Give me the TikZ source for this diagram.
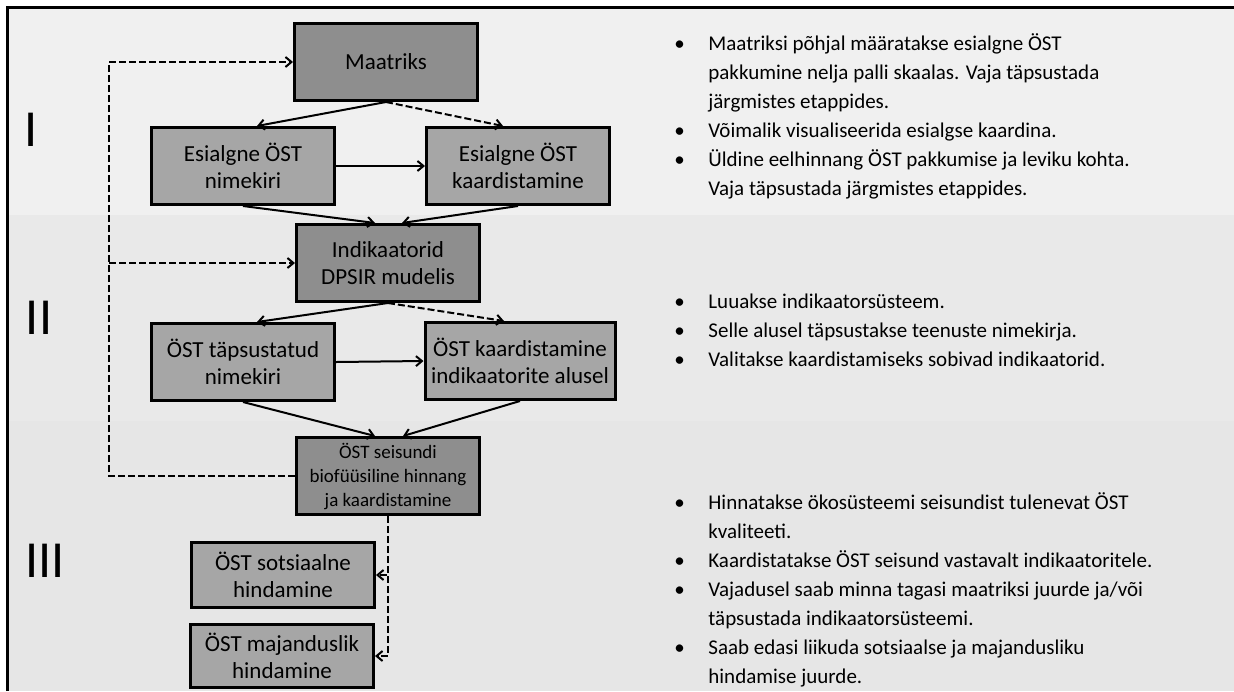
\documentclass[tikz,border=0pt]{standalone}
\usepackage{fontspec}
\setmainfont{Carlito}
\usetikzlibrary{calc,arrows.meta}
\definecolor{bandA}{HTML}{F0F0F0}
\definecolor{bandB}{HTML}{E9E9E9}
\definecolor{bandC}{HTML}{E6E6E6}
\definecolor{boxdark}{HTML}{8E8E8E}
\definecolor{boxlight}{HTML}{A6A6A6}
\newcommand{\bul}{\strut\makebox[17pt][l]{•}}
\newcommand{\cont}{\strut\hspace*{17pt}}
\tikzset{
  stage/.style={draw,line width=1.5pt,minimum width=91.5pt,minimum height=38.5pt,
    inner sep=1pt,align=center,font=\fontsize{11.5}{13.5}\selectfont},
  dark/.style={stage,fill=boxdark},
  light/.style={stage,fill=boxlight},
  link/.style={line width=1pt,-{Straight Barb[length=3pt,width=5pt]}},
  dlink/.style={link,dash pattern=on 3.5pt off 1.5pt},
  notes/.style={anchor=north west,inner sep=0pt,align=left,font=\fontsize{10.5}{14.5}\selectfont},
  roman/.style={inner sep=0pt,font=\fontsize{26}{30}\selectfont}
}
\begin{document}
\begin{tikzpicture}[x=0.5pt,y=-0.5pt]
	\useasboundingbox (0,0) rectangle (1234,691);
	\fill[bandA] (7,7) rectangle (1234,215);
	\fill[bandB] (7,215) rectangle (1234,421);
	\fill[bandC] (7,421) rectangle (1234,691);
	\draw[line width=1.5pt] (7,691) -- (7,7) -- (1234,7);
	
	\node[roman] (rI) at (31,130) {I};
	\node[roman] (rII) at (39,318) {II};
	\node[roman] (rIII) at (45,561) {III};
	
	\node[dark] (maatriks) at (386,62) {Maatriks};
	\node[light] (nim1) at (243,166) {Esialgne ÖST\\nimekiri};
	\node[light] (kaart1) at (518,166) {Esialgne ÖST\\kaardistamine};
	\node[dark] (indik) at (388,263) {Indikaatorid\\DPSIR mudelis};
	\node[light] (nim2) at (243,362) {ÖST täpsustatud\\nimekiri};
	\node[light,minimum width=95pt] (kaart2) at (520,361) {ÖST kaardistamine\\indikaatorite alusel};
	\node[dark,font=\fontsize{9.5}{12}\selectfont] (seisund) at (388,476) {ÖST seisundi\\biofüüsiline hinnang\\ja kaardistamine};
	\node[light,minimum height=32.5pt] (sots) at (283,575) {ÖST sotsiaalne\\hindamine};
	\node[light,minimum height=31.5pt] (majand) at (282,656) {ÖST majanduslik\\hindamine};
	
	\coordinate (looptop) at (109,62);
	\coordinate (loopmid) at (109,263);
	
	\draw[link] (maatriks.south) -- ($(nim1.north)+(14,0)$);
	\draw[dlink] (maatriks.south) -- ($(kaart1.north)+(-15,0)$);
	\draw[link] (nim1.east) -- (kaart1.west);
	\draw[link] (nim1.south) -- ($(indik.north)+(-13,0)$);
	\draw[link] (kaart1.south) -- ($(indik.north)+(14,0)$);
	\draw[link] (indik.south) -- ($(nim2.north)+(14,0)$);
	\draw[dlink] (indik.south) -- ($(kaart2.north)+(-16,0)$);
	\draw[link] (nim2.east) -- (kaart2.west);
	\draw[link] (nim2.south) -- ($(seisund.north)+(-13,0)$);
	\draw[link] (kaart2.south) -- ($(seisund.north)+(15,0)$);
	\draw[dlink] (seisund.west) -| (looptop) -- (maatriks.west);
	\draw[dlink] (loopmid) -- (indik.west);
	\draw[dlink] (seisund.south) |- (sots.east);
	\draw[dlink] (seisund.south) |- (majand.east);
	
	\node[notes] (notesI) at (674,30) {\bul Maatriksi põhjal määratakse esialgne ÖST\\
		\cont pakkumine nelja palli skaalas. Vaja täpsustada\\
		\cont järgmistes etappides.\\
		\bul Võimalik visualiseerida esialgse kaardina.\\
		\bul Üldine eelhinnang ÖST pakkumise ja leviku kohta.\\
		\cont Vaja täpsustada järgmistes etappides.};
	\node[notes] (notesII) at (674,288) {\bul Luuakse indikaatorsüsteem.\\
		\bul Selle alusel täpsustakse teenuste nimekirja.\\
		\bul Valitakse kaardistamiseks sobivad indikaatorid.};
	\node[notes] (notesIII) at (674,489) {\bul Hinnatakse ökosüsteemi seisundist tulenevat ÖST\\
		\cont kvaliteeti.\\
		\bul Kaardistatakse ÖST seisund vastavalt indikaatoritele.\\
		\bul Vajadusel saab minna tagasi maatriksi juurde ja/või\\
		\cont täpsustada indikaatorsüsteemi.\\
		\bul Saab edasi liikuda sotsiaalse ja majandusliku\\
		\cont hindamise juurde.};
\end{tikzpicture}
\end{document}
